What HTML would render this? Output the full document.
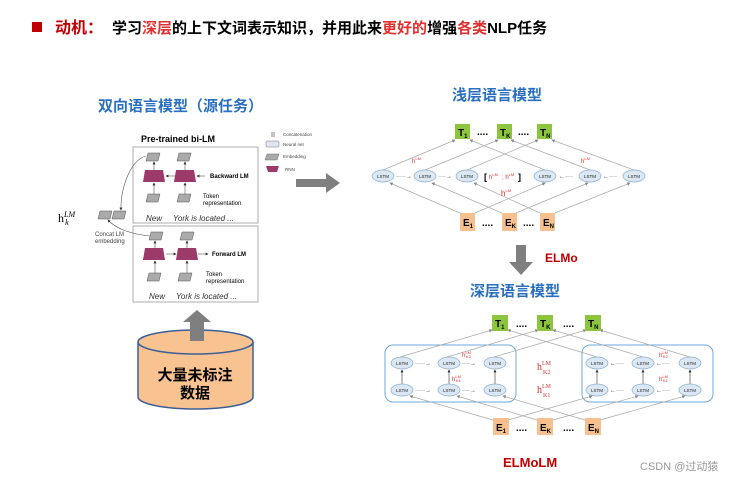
<!DOCTYPE html>
<html><head><meta charset="utf-8"><style>
body{margin:0;background:#fff;}
svg{display:block;font-family:"Liberation Sans","Noto Sans CJK SC",sans-serif;}
.cj{font-family:"Liberation Sans","Noto Sans CJK SC",sans-serif;font-weight:bold;}
</style></head><body>
<svg width="754" height="483" viewBox="0 0 754 483" xmlns="http://www.w3.org/2000/svg">
<defs>
<marker id="a" markerWidth="5" markerHeight="5" refX="4" refY="2.5" orient="auto"><path d="M0,0L5,2.5L0,5z" fill="#888"/></marker>
<marker id="b" markerWidth="5" markerHeight="5" refX="4" refY="2.5" orient="auto"><path d="M0,0L5,2.5L0,5z" fill="#333"/></marker>
</defs>
<!-- title -->
<rect x="32" y="22" width="10" height="10" fill="#c00000"/>
<text x="55" y="33" class="cj" font-size="16" fill="#c00000">动机：</text>
<text x="112" y="33" class="cj" font-size="15" fill="#000">学习<tspan fill="#e03030">深层</tspan>的上下文词表示知识，并用此来<tspan fill="#e03030">更好的</tspan>增强<tspan fill="#e03030">各类</tspan>NLP任务</text>

<!-- left -->
<text x="98" y="111" class="cj" font-size="15" fill="#2a6fc0">双向语言模型（源任务）</text>
<text x="141" y="142" font-size="9" font-weight="bold">Pre-trained bi-LM</text>
<rect x="133" y="147" width="125" height="76" fill="#fff" stroke="#999" stroke-width="0.8"/>
<rect x="133" y="226" width="125" height="76" fill="#fff" stroke="#999" stroke-width="0.8"/>
<g fill="#aaa" stroke="#555" stroke-width="0.5">
<path d="M148,153h12l-2,8h-12z"/><path d="M179,153h12l-2,8h-12z"/>
<path d="M148,194h12l-2,8h-12z"/><path d="M179,194h12l-2,8h-12z"/>
<path d="M151,232h12l-2,8h-12z"/><path d="M182,232h12l-2,8h-12z"/>
<path d="M149,273h12l-2,8h-12z"/><path d="M180,273h12l-2,8h-12z"/>
<path d="M100,211h12l-2,8h-12z"/><path d="M114,211h12l-2,8h-12z"/>
</g>
<g fill="#9c3a6a">
<path d="M145,170h18l2,12h-22z"/><path d="M176,170h18l2,12h-22z"/>
<path d="M145,248h18l2,12h-22z"/><path d="M178,248h18l2,12h-22z"/>
</g>
<g stroke="#555" stroke-width="0.6" fill="none" marker-end="url(#b)">
<line x1="154" y1="194" x2="154" y2="183"/><line x1="185" y1="194" x2="185" y2="183"/>
<line x1="154" y1="170" x2="154" y2="162"/><line x1="185" y1="170" x2="185" y2="162"/>
<line x1="176" y1="176" x2="166" y2="176"/><line x1="205" y1="176" x2="197" y2="176"/>
<line x1="155" y1="273" x2="155" y2="261"/><line x1="187" y1="273" x2="187" y2="261"/>
<line x1="155" y1="248" x2="155" y2="241"/><line x1="187" y1="248" x2="187" y2="241"/>
<line x1="166" y1="254" x2="176" y2="254"/><line x1="198" y1="254" x2="208" y2="254"/>
<path d="M146,156 C130,160 120,190 121,210"/>
<path d="M150,236 C130,234 115,228 108,220"/>
</g>
<g font-size="6"><text x="210" y="178" font-weight="bold">Backward LM</text>
<text x="203" y="198">Token</text><text x="203" y="205">representation</text>
<text x="212" y="256" font-weight="bold">Forward LM</text>
<text x="206" y="276">Token</text><text x="206" y="283">representation</text>
<text x="95" y="236" fill="#444">Concat LM</text><text x="95" y="243" fill="#444">embedding</text></g>
<g font-size="8" font-style="italic" fill="#333"><text x="146" y="221">New</text><text x="173" y="221">York  is  located  ...</text>
<text x="149" y="299">New</text><text x="176" y="299">York  is  located  ...</text></g>
<text x="58" y="222" font-family="Liberation Serif" font-size="12">h<tspan font-size="8" dy="-5" font-style="italic">LM</tspan><tspan font-size="8" dx="-10" dy="8" font-style="italic">k</tspan></text>
<!-- legend -->
<line x1="272" y1="132" x2="272" y2="137" stroke="#888"/><line x1="274" y1="132" x2="274" y2="137" stroke="#888"/>
<rect x="266" y="141" width="13" height="6" rx="1" fill="#dbe8f4" stroke="#555" stroke-width="0.4"/>
<path d="M267,154h12l-2,6h-12z" fill="#aaa" stroke="#555" stroke-width="0.4"/>
<path d="M266,166h13l-2,6h-9z" fill="#9c3a6a"/>
<g font-size="4.5" fill="#444"><text x="283" y="136">Concatenation</text><text x="283" y="146">Neural net</text><text x="283" y="158">Embedding</text><text x="285" y="171">RNN</text></g>
<path d="M296,179h30v-6l14,10l-14,10v-6h-30z" fill="#7f7f7f"/>
<!-- cylinder -->
<path d="M138,342 V397 A57.5,12 0 0 0 253,397 V342" fill="#f8c291" stroke="#3a5f96" stroke-width="1.5"/>
<ellipse cx="195.5" cy="342" rx="57.5" ry="12" fill="#f8c291" stroke="#3a5f96" stroke-width="1.5"/>
<path d="M190,341V322h-7l14,-12l14,12h-7v19z" fill="#7f7f7f"/>
<text x="195" y="380" text-anchor="middle" class="cj" font-size="15">大量未标注</text>
<text x="195" y="398" text-anchor="middle" class="cj" font-size="15">数据</text>

<!-- shallow -->
<text x="452" y="100" class="cj" font-size="15" fill="#2a6fc0">浅层语言模型</text>
<g stroke="#aaa" stroke-width="0.7" fill="none" marker-end="url(#a)">
<line x1="383" y1="170" x2="455" y2="140"/><line x1="425" y1="170" x2="498" y2="140"/><line x1="467" y1="170" x2="538" y2="140"/>
<line x1="634" y1="170" x2="552" y2="140"/><line x1="590" y1="170" x2="511" y2="140"/><line x1="545" y1="170" x2="470" y2="140"/>
<line x1="460" y1="213" x2="390" y2="183"/><line x1="502" y1="213" x2="432" y2="183"/><line x1="540" y1="213" x2="474" y2="183"/>
<line x1="475" y1="213" x2="545" y2="183"/><line x1="516" y1="213" x2="588" y2="183"/><line x1="555" y1="213" x2="630" y2="183"/>
</g>
<g fill="#8cc63f"><rect x="455" y="124" width="15" height="15"/><rect x="497" y="124" width="15" height="15"/><rect x="537" y="124" width="15" height="15"/></g>
<g class="cj" font-size="10"><text x="458" y="136">T<tspan font-size="6" dy="2">1</tspan></text><text x="500" y="136">T<tspan font-size="6" dy="2">K</tspan></text><text x="540" y="136">T<tspan font-size="6" dy="2">N</tspan></text>
<text x="477" y="135">....</text><text x="518" y="135">....</text></g>
<g fill="#f9c08f"><rect x="460" y="213" width="15" height="18"/><rect x="502" y="213" width="15" height="18"/><rect x="540" y="213" width="15" height="18"/></g>
<g class="cj" font-size="10"><text x="463" y="226">E<tspan font-size="6" dy="2">1</tspan></text><text x="505" y="226">E<tspan font-size="6" dy="2">K</tspan></text><text x="543" y="226">E<tspan font-size="6" dy="2">N</tspan></text>
<text x="482" y="226">....</text><text x="523" y="226">....</text></g>
<g fill="#dbe8f4" stroke="#8aaecf" stroke-width="0.7">
<ellipse cx="383" cy="176" rx="11" ry="6"/><ellipse cx="425" cy="176" rx="11" ry="6"/><ellipse cx="467" cy="176" rx="11" ry="6"/>
<ellipse cx="545" cy="176" rx="11" ry="6"/><ellipse cx="590" cy="176" rx="11" ry="6"/><ellipse cx="634" cy="176" rx="11" ry="6"/></g>
<g font-size="4.5" text-anchor="middle" fill="#222"><text x="383" y="178">LSTM</text><text x="425" y="178">LSTM</text><text x="467" y="178">LSTM</text><text x="545" y="178">LSTM</text><text x="590" y="178">LSTM</text><text x="634" y="178">LSTM</text></g>
<g font-size="6" fill="#333"><text x="396" y="178">·····→</text><text x="438" y="178">····→</text><text x="559" y="178">←····</text><text x="603" y="178">←····</text></g>
<text x="484" y="180" font-size="9" font-weight="bold">[</text><text x="518" y="180" font-size="9" font-weight="bold">]</text>
<g fill="#e03030" font-size="6"><text x="489" y="179">h<tspan font-size="4" dy="-3">LM</tspan></text><text x="502" y="179">; h<tspan font-size="4" dy="-3">LM</tspan></text>
<text x="412" y="163">h<tspan font-size="4" dy="-3">LM</tspan></text><text x="581" y="163">h<tspan font-size="4" dy="-3">LM</tspan></text>
<text x="501" y="196" font-size="8">h<tspan font-size="4" dy="-4">LM</tspan></text></g>
<!-- arrow down -->
<path d="M516,245h10v17h7l-12,13l-12,-13h7z" fill="#7f7f7f"/>
<text x="545" y="262" font-size="12" font-weight="bold" fill="#c00000">ELMo</text>

<!-- deep -->
<text x="470" y="296" class="cj" font-size="15" fill="#2a6fc0">深层语言模型</text>
<rect x="385" y="345" width="131" height="57" rx="8" fill="none" stroke="#6fa8dc" stroke-width="1"/>
<rect x="582" y="345" width="131" height="57" rx="8" fill="none" stroke="#6fa8dc" stroke-width="1"/>
<g stroke="#aaa" stroke-width="0.7" fill="none" marker-end="url(#a)">
<line x1="400" y1="357" x2="492" y2="330"/><line x1="447" y1="357" x2="538" y2="330"/><line x1="494" y1="357" x2="586" y2="330"/>
<line x1="690" y1="357" x2="600" y2="330"/><line x1="643" y1="357" x2="553" y2="330"/><line x1="597" y1="357" x2="508" y2="330"/>
<line x1="493" y1="420" x2="410" y2="396"/><line x1="537" y1="420" x2="457" y2="396"/><line x1="585" y1="420" x2="503" y2="396"/>
<line x1="508" y1="420" x2="592" y2="396"/><line x1="553" y1="420" x2="638" y2="396"/><line x1="600" y1="420" x2="685" y2="396"/>
</g>
<g fill="#8cc63f"><rect x="492" y="315" width="16" height="16"/><rect x="537" y="315" width="16" height="16"/><rect x="585" y="315" width="16" height="16"/></g>
<g class="cj" font-size="10"><text x="495" y="327">T<tspan font-size="6" dy="2">1</tspan></text><text x="540" y="327">T<tspan font-size="6" dy="2">K</tspan></text><text x="588" y="327">T<tspan font-size="6" dy="2">N</tspan></text>
<text x="516" y="327">....</text><text x="563" y="327">....</text></g>
<g fill="#f9c08f"><rect x="493" y="418" width="16" height="17"/><rect x="537" y="418" width="16" height="17"/><rect x="585" y="418" width="16" height="17"/></g>
<g class="cj" font-size="10"><text x="496" y="431">E<tspan font-size="6" dy="2">1</tspan></text><text x="540" y="431">E<tspan font-size="6" dy="2">K</tspan></text><text x="588" y="431">E<tspan font-size="6" dy="2">N</tspan></text>
<text x="516" y="431">....</text><text x="563" y="431">....</text></g>
<g stroke="#333" stroke-width="0.6" marker-end="url(#b)">
<line x1="402" y1="384" x2="402" y2="370"/><line x1="449" y1="384" x2="449" y2="370"/><line x1="495" y1="384" x2="495" y2="370"/>
<line x1="597" y1="384" x2="597" y2="370"/><line x1="643" y1="384" x2="643" y2="370"/><line x1="690" y1="384" x2="690" y2="370"/></g>
<g fill="#dbe8f4" stroke="#8aaecf" stroke-width="0.7">
<ellipse cx="402" cy="363" rx="11" ry="6"/><ellipse cx="449" cy="363" rx="11" ry="6"/><ellipse cx="495" cy="363" rx="11" ry="6"/>
<ellipse cx="402" cy="390" rx="11" ry="6"/><ellipse cx="449" cy="390" rx="11" ry="6"/><ellipse cx="495" cy="390" rx="11" ry="6"/>
<ellipse cx="597" cy="363" rx="11" ry="6"/><ellipse cx="643" cy="363" rx="11" ry="6"/><ellipse cx="690" cy="363" rx="11" ry="6"/>
<ellipse cx="597" cy="390" rx="11" ry="6"/><ellipse cx="643" cy="390" rx="11" ry="6"/><ellipse cx="690" cy="390" rx="11" ry="6"/></g>
<g font-size="4.5" text-anchor="middle" fill="#222">
<text x="402" y="365">LSTM</text><text x="449" y="365">LSTM</text><text x="495" y="365">LSTM</text>
<text x="402" y="392">LSTM</text><text x="449" y="392">LSTM</text><text x="495" y="392">LSTM</text>
<text x="597" y="365">LSTM</text><text x="643" y="365">LSTM</text><text x="690" y="365">LSTM</text>
<text x="597" y="392">LSTM</text><text x="643" y="392">LSTM</text><text x="690" y="392">LSTM</text></g>
<g font-size="6" fill="#333"><text x="415" y="365">·····→</text><text x="462" y="365">····→</text><text x="415" y="392">·····→</text><text x="462" y="392">····→</text>
<text x="610" y="365">←····</text><text x="656" y="365">←····</text><text x="610" y="392">←····</text><text x="656" y="392">←····</text></g>
<g fill="#e03030" font-size="6">
<text x="462" y="357">h<tspan font-size="4" dy="-3">LM</tspan><tspan font-size="4" dx="-5" dy="4">K2</tspan></text>
<text x="452" y="381">h<tspan font-size="4" dy="-3">LM</tspan><tspan font-size="4" dx="-5" dy="4">K1</tspan></text>
<text x="659" y="357">h<tspan font-size="4" dy="-3">LM</tspan><tspan font-size="4" dx="-5" dy="4">K2</tspan></text>
<text x="659" y="381">h<tspan font-size="4" dy="-3">LM</tspan><tspan font-size="4" dx="-5" dy="4">K1</tspan></text>
<text x="537" y="370" font-size="10" font-family="Liberation Serif">h<tspan font-size="6" dy="-5">LM</tspan><tspan font-size="6" dx="-8" dy="9">K2</tspan></text>
<text x="537" y="393" font-size="10" font-family="Liberation Serif">h<tspan font-size="6" dy="-5">LM</tspan><tspan font-size="6" dx="-8" dy="9">K1</tspan></text></g>
<text x="503" y="467" font-size="13" font-weight="bold" fill="#c00000">ELMoLM</text>
<text x="640" y="470" font-size="11" fill="#999" font-family="Liberation Sans,Noto Sans CJK SC,sans-serif">CSDN @过动猿</text>
</svg>
</body></html>
